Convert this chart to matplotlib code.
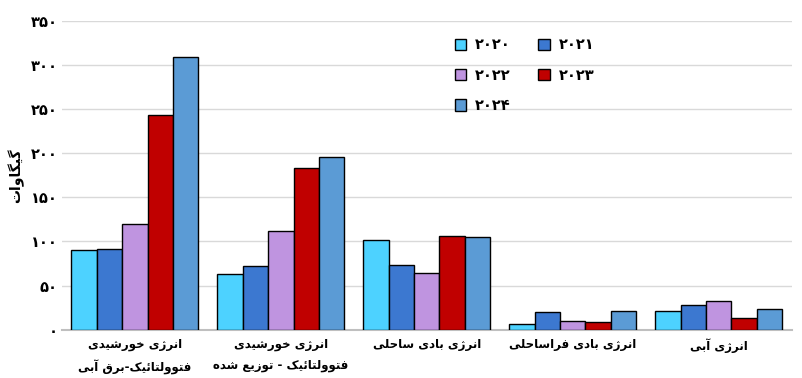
import numpy as np
import matplotlib
matplotlib.use('Agg')
import matplotlib.pyplot as plt
from matplotlib.ticker import FuncFormatter

plt.rcParams['font.family'] = ['DejaVu Sans']

# data (GW)
categories = [['انرژی خورشیدی', 'فتوولتائیک-برق آبی'],
              ['انرژی خورشیدی', 'فتوولتائیک - توزیع شده'],
              ['انرژی بادی ساحلی'],
              ['انرژی بادی فراساحلی'],
              ['انرژی آبی']]
years = ['۲۰۲۰', '۲۰۲۱', '۲۰۲۲', '۲۰۲۳', '۲۰۲۴']
v2020 = [90, 63, 102, 6, 21]
v2021 = [91, 72, 73, 20, 28]
v2022 = [120, 112, 64, 10, 32]
v2023 = [243, 183, 106, 9, 13]
v2024 = [309, 196, 105, 21, 23]
y_label = 'گیگاوات'

colors = ['#4dd2ff', '#3c78d0', '#bf94e0', '#c00000', '#5b9bd5']

# simple arabic/persian shaping: (isolated, final, initial, medial)
FORMS = {
    'ا': (0xFE8D, 0xFE8E), 'آ': (0xFE81, 0xFE82),
    'ب': (0xFE8F, 0xFE90, 0xFE91, 0xFE92), 'ت': (0xFE95, 0xFE96, 0xFE97, 0xFE98),
    'ح': (0xFEA1, 0xFEA2, 0xFEA3, 0xFEA4), 'خ': (0xFEA5, 0xFEA6, 0xFEA7, 0xFEA8),
    'د': (0xFEA9, 0xFEAA), 'ر': (0xFEAD, 0xFEAE), 'ز': (0xFEAF, 0xFEB0),
    'س': (0xFEB1, 0xFEB2, 0xFEB3, 0xFEB4), 'ش': (0xFEB5, 0xFEB6, 0xFEB7, 0xFEB8),
    'ع': (0xFEC9, 0xFECA, 0xFECB, 0xFECC), 'ف': (0xFED1, 0xFED2, 0xFED3, 0xFED4),
    'ق': (0xFED5, 0xFED6, 0xFED7, 0xFED8), 'ل': (0xFEDD, 0xFEDE, 0xFEDF, 0xFEE0),
    'ن': (0xFEE5, 0xFEE6, 0xFEE7, 0xFEE8), 'ه': (0xFEE9, 0xFEEA, 0xFEEB, 0xFEEC),
    'و': (0xFEED, 0xFEEE), 'ئ': (0xFE89, 0xFE8A, 0xFE8B, 0xFE8C),
    'ژ': (0xFB8A, 0xFB8B), 'ک': (0xFB8E, 0xFB8F, 0xFB90, 0xFB91),
    'گ': (0xFB92, 0xFB93, 0xFB94, 0xFB95), 'ی': (0xFBFC, 0xFBFD, 0xFBFE, 0xFBFF),
}


def shape(text):
    out = []
    n = len(text)
    for i, c in enumerate(text):
        if c not in FORMS:
            out.append(c)
            continue
        f = FORMS[c]
        prev = text[i - 1] if i > 0 else ''
        nxt = text[i + 1] if i < n - 1 else ''
        join_prev = prev in FORMS and len(FORMS[prev]) == 4
        join_next = len(f) == 4 and nxt in FORMS
        if join_prev and join_next:
            out.append(chr(f[3]))
        elif join_prev:
            out.append(chr(f[1]))
        elif join_next:
            out.append(chr(f[2]))
        else:
            out.append(chr(f[0]))
    return ''.join(out)[::-1]


def persian_digits(v, pos=None):
    return str(int(v)).translate(str.maketrans('0123456789', '۰۱۲۳۴۵۶۷۸۹'))


fig = plt.figure(figsize=(8.03, 3.78), dpi=100)
ax = fig.add_axes([0.077, 0.128, 0.909, 0.816])

series = [v2020, v2021, v2022, v2023, v2024]
x = np.arange(len(categories))
w = 0.174
handles = []
for i, vals in enumerate(series):
    b = ax.bar(x + (i - 2) * w, vals, w, color=colors[i], edgecolor='black',
               linewidth=1.0, zorder=3, label=years[i])
    handles.append(b)

ax.set_xlim(-0.5, len(categories) - 0.5)
ax.set_ylim(0, 350)
ax.set_yticks(np.arange(0, 351, 50))
ax.yaxis.set_major_formatter(FuncFormatter(persian_digits))
ax.grid(axis='y', color='#d9d9d9', linewidth=1, zorder=0)
for s in ['top', 'right', 'left']:
    ax.spines[s].set_visible(False)
ax.spines['bottom'].set_color('#bfbfbf')
ax.spines['bottom'].set_linewidth(1.5)
ax.tick_params(axis='both', length=0)
ax.tick_params(axis='y', pad=3, labelsize=10.5)
for t in ax.get_yticklabels():
    t.set_fontweight('bold')

ax.set_xticks(x)
ax.set_xticklabels(['\n'.join(shape(s) for s in c) for c in categories],
                   fontsize=8.5, fontweight='bold', linespacing=1.75)
ax.tick_params(axis='x', pad=6)

ax.set_ylabel(shape(y_label), fontsize=10, fontweight='bold', labelpad=5)

order = [0, 2, 4, 1, 3]
leg = ax.legend([handles[i] for i in order], [years[i] for i in order],
                ncol=2, frameon=False, loc='upper left',
                bbox_to_anchor=(0.52, 0.99), handlelength=0.8, handleheight=0.8,
                labelspacing=1.05, columnspacing=1.9, handletextpad=0.6,
                prop={'size': 10.5, 'weight': 'bold'})

fig.savefig('out.png', dpi=100)
